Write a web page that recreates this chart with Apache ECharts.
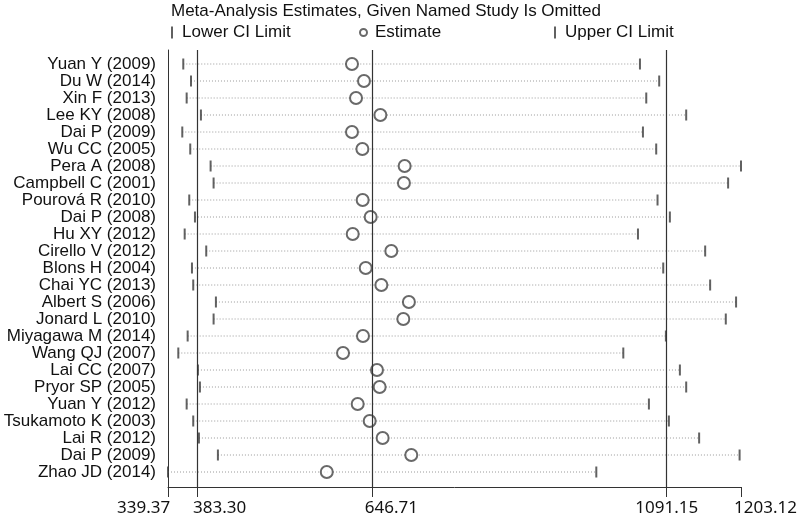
<!DOCTYPE html>
<html>
<head>
<meta charset="utf-8">
<script src="https://cdn.jsdelivr.net/npm/echarts@6/dist/echarts.min.js"></script>
<style>html,body{margin:0;padding:0;background:#fff}#c{width:800px;height:523px}</style>
</head>
<body>
<div id="c"></div>
<script>
const studies = ['Yuan Y (2009)','Du W (2014)','Xin F (2013)','Lee KY (2008)','Dai P (2009)','Wu CC (2005)','Pera A (2008)','Campbell C (2001)','Pourová R (2010)','Dai P (2008)','Hu XY (2012)','Cirello V (2012)','Blons H (2004)','Chai YC (2013)','Albert S (2006)','Jonard L (2010)','Miyagawa M (2014)','Wang QJ (2007)','Lai CC (2007)','Pryor SP (2005)','Yuan Y (2012)','Tsukamoto K (2003)','Lai R (2012)','Dai P (2009)','Zhao JD (2014)'];
const lowerCI = [362.4,374.0,367.5,389.0,360.9,372.9,403.6,408.1,371.4,380.0,364.5,397.0,375.5,377.4,411.6,408.1,369.0,354.9,384.5,387.5,367.5,377.4,386.0,414.6,339.37];
const estimate = [616.7,634.8,622.8,659.5,616.7,632.4,696.1,695.0,632.8,644.9,617.8,676.0,637.4,661.0,702.5,694.1,633.3,603.2,654.4,658.4,625.3,643.4,662.9,706.1,578.7];
const upperCI = [1050.8,1079.8,1060.3,1120.5,1055.3,1075.3,1203.12,1183.7,1077.3,1095.9,1047.8,1149.1,1085.9,1156.6,1195.7,1180.2,1089.9,1025.7,1111.0,1120.5,1064.3,1094.4,1140.0,1201.0,985.0];
const overall = [383.30, 646.71, 1091.15];
const xTicks = [339.37, 383.30, 646.71, 1091.15, 1203.12];
const xTickLabels = ['339.37','383.30','646.71','1091.15','1203.12'];
const titleText = 'Meta-Analysis Estimates, Given Named Study Is Omitted';

const chart = echarts.init(document.getElementById('c'), null, {renderer:'canvas'});
const rowIdx = studies.map((s,i)=>i);
const labelRich = {
  ta:{width:102, align:'left'}, tb:{width:98, align:'right'}, tc:{width:92, align:'right'},
  td:{}, te:{width:112, align:'right'}
};
const richNames = ['ta','tb','tc','td','te'];
const FONT = 'Liberation Sans, Arial, sans-serif';
const lineColor = '#333';

chart.setOption({
  animation:false,
  backgroundColor:'#fff',
  title:{text:titleText, left:171, top:3, padding:0,
    textStyle:{fontFamily:FONT, fontSize:17, fontWeight:'normal', color:'#111'}},
  legend:[
    {data:['Lower CI Limit'], left:171, top:24, padding:0, icon:'rect', itemWidth:2, itemHeight:12,
      textStyle:{fontFamily:FONT, fontSize:17, color:'#111', padding:[0,0,0,4]}},
    {data:['Estimate'], left:359, top:24, padding:0, icon:'emptyCircle', itemWidth:7, itemHeight:7,
      textStyle:{fontFamily:FONT, fontSize:17, color:'#111', padding:[0,0,0,3]}},
    {data:['Upper CI Limit'], left:554, top:24, padding:0, icon:'rect', itemWidth:2, itemHeight:12,
      textStyle:{fontFamily:FONT, fontSize:17, color:'#111', padding:[0,0,0,4]}}
  ],
  grid:{left:168, right:58, top:50, bottom:36},
  xAxis:{type:'value', min:339.37, max:1203.12, position:'bottom',
    axisLine:{show:true, onZero:false, lineStyle:{color:lineColor, width:1}},
    axisTick:{show:true, length:10, customValues:xTicks, lineStyle:{color:lineColor, width:1}},
    splitLine:{show:false},
    axisLabel:{customValues:xTicks, margin:13, fontFamily:'Noto Sans, sans-serif', fontSize:17, color:'#111',
      formatter:function(v){ let k=0, d=Infinity; xTicks.forEach((t,j)=>{ if(Math.abs(t-v)<d){d=Math.abs(t-v);k=j;} }); return '{'+richNames[k]+'|'+xTickLabels[k]+'}'; },
      rich:labelRich}
  },
  yAxis:{type:'value', inverse:true, min:-0.824, max:24.882, position:'left',
    axisLine:{show:true, onZero:false, lineStyle:{color:lineColor, width:1}},
    axisTick:{show:false},
    splitLine:{show:false},
    axisLabel:{customValues:rowIdx, margin:12, fontFamily:FONT, fontSize:17, color:'#111',
      formatter:function(v){ return studies[Math.round(v)]; }}
  },
  series:[
    {type:'custom', name:'ci', silent:true, z:1,
      data:studies.map((s,i)=>[lowerCI[i], upperCI[i], i]),
      encode:{x:[0,1], y:2},
      renderItem:function(params, api){
        const a = api.coord([api.value(0), api.value(2)]);
        const b = api.coord([api.value(1), api.value(2)]);
        return {type:'line', shape:{x1:a[0], y1:a[1], x2:b[0], y2:b[1]},
          style:{stroke:'#9a9a9a', lineWidth:1, lineDash:[1,2]}};
      },
      markLine:{silent:true, symbol:'none', label:{show:false},
        lineStyle:{color:lineColor, width:1.2, type:'solid'},
        data:overall.map(v=>({xAxis:v}))}
    },
    {type:'scatter', name:'Lower CI Limit', z:3, symbol:'rect', symbolSize:[2,11],
      itemStyle:{color:'#3a3a3a'}, data:lowerCI.map((v,i)=>[v,i])},
    {type:'scatter', name:'Upper CI Limit', z:3, symbol:'rect', symbolSize:[2,11],
      itemStyle:{color:'#3a3a3a'}, data:upperCI.map((v,i)=>[v,i])},
    {type:'scatter', name:'Estimate', z:4, symbol:'emptyCircle', symbolSize:12,
      itemStyle:{color:'#444', borderColor:'#444', borderWidth:1.2}, data:estimate.map((v,i)=>[v,i])}
  ]
});
</script>
</body>
</html>
